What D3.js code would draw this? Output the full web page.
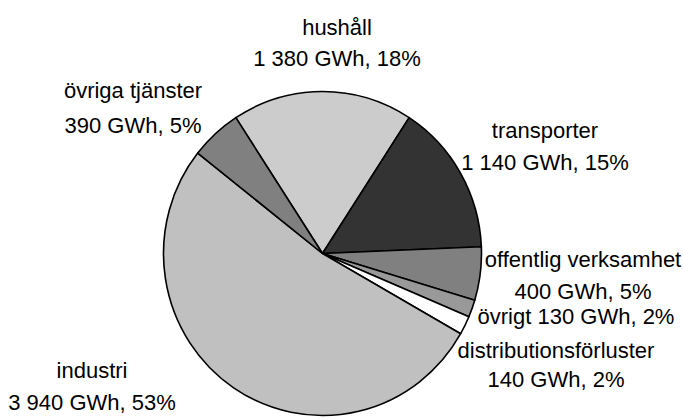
<!DOCTYPE html>
<html>
<head>
<meta charset="utf-8">
<script src="https://cdn.jsdelivr.net/npm/d3@7"></script>
<style>
  html, body { margin: 0; padding: 0; background: #fff; }
  svg { display: block; }
  text { font-family: "Liberation Sans", Arial, sans-serif; font-size: 22px; fill: #000; }
</style>
</head>
<body>
<svg id="chart" width="683" height="419"></svg>
<script>
const categories = ["hushåll", "transporter", "offentlig verksamhet", "övrigt", "distributionsförluster", "industri", "övriga tjänster"];
const values = [1380, 1140, 400, 130, 140, 3940, 390];
const valueLabels = ["1 380 GWh, 18%", "1 140 GWh, 15%", "400 GWh, 5%", "130 GWh, 2%", "140 GWh, 2%", "3 940 GWh, 53%", "390 GWh, 5%"];
const colors = ["#cccccc", "#333333", "#808080", "#999999", "#ffffff", "#c0c0c0", "#808080"];

const svg = d3.select("#chart");
const cx = 322.5, cy = 253.5, rx = 159, ry = 162;
const total = d3.sum(values);
const start = -(values[0] / total) * Math.PI;

const pie = d3.pie().sort(null).value(d => d)
  .startAngle(start).endAngle(start + 2 * Math.PI);
const arcs = pie(values);
const arc = d3.arc().innerRadius(0).outerRadius(rx);

const g = svg.append("g")
  .attr("transform", `translate(${cx},${cy}) scale(1,${ry / rx})`);
g.selectAll("path").data(arcs).enter().append("path")
  .attr("d", arc)
  .attr("fill", (d, i) => colors[i])
  .attr("stroke", "#000")
  .attr("stroke-width", 1.6)
  .attr("vector-effect", "non-scaling-stroke")
  .attr("stroke-linejoin", "round");

const labelPos = [
  { x: 337, lines: [[categories[0], 35], [valueLabels[0], 66]] },
  { x: 545, lines: [[categories[1], 138], [valueLabels[1], 170]] },
  { x: 583, lines: [[categories[2], 267], [valueLabels[2], 299]] },
  { x: 576, lines: [[categories[3] + " " + valueLabels[3], 324]] },
  { x: 556, lines: [[categories[4], 358], [valueLabels[4], 387]] },
  { x: 92,  lines: [[categories[5], 378], [valueLabels[5], 410]] },
  { x: 133, lines: [[categories[6], 98], [valueLabels[6], 133]] }
];
labelPos.forEach(lp => {
  lp.lines.forEach(([t, y]) => {
    svg.append("text").attr("x", lp.x).attr("y", y)
      .attr("text-anchor", "middle").text(t);
  });
});
</script>
</body>
</html>
